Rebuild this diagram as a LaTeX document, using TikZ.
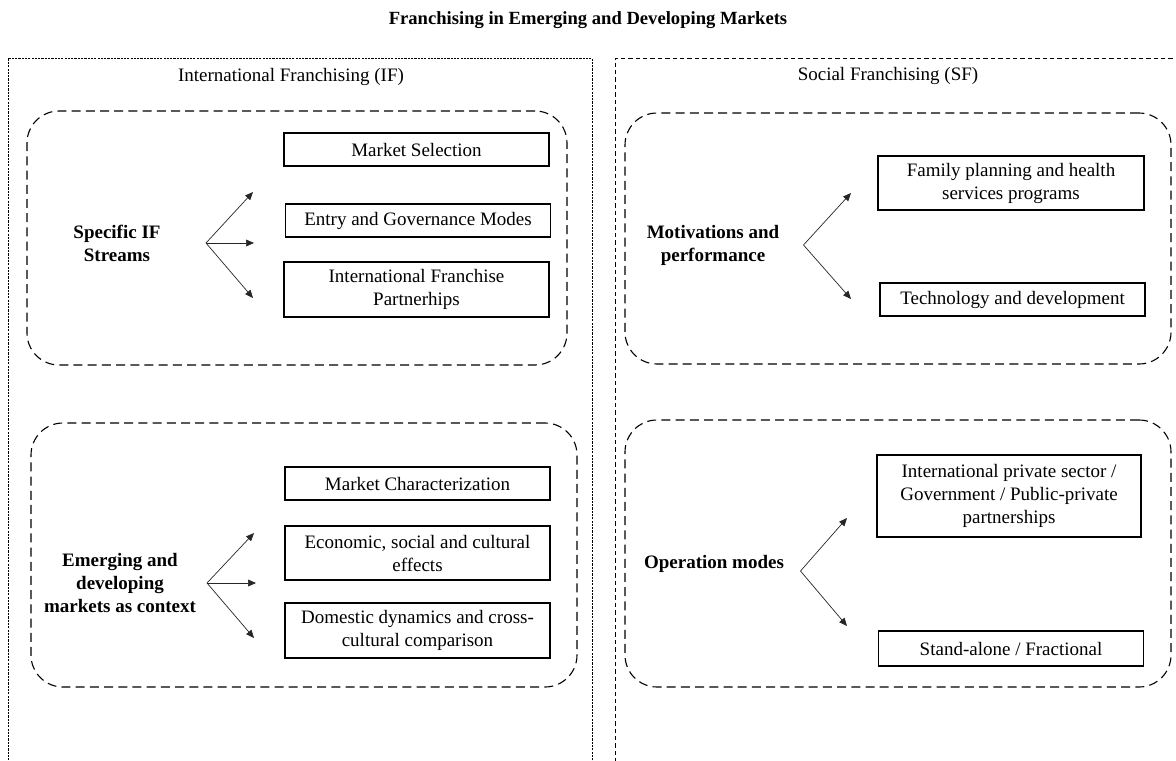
\documentclass[tikz,border=0pt]{standalone}
\usepackage{fontspec}
\setmainfont{Liberation Serif}
\usetikzlibrary{arrows.meta}

\begin{document}
\begin{tikzpicture}[x=0.5pt,y=-0.5pt,font=\fontsize{9.5}{11.5}\selectfont]
\useasboundingbox (0,0) rectangle (1176,760);
\clip (0,0) rectangle (1176,760);
\tikzstyle{side} = [draw, line width=0.5pt, inner sep=0pt, minimum height=371pt];
\tikzstyle{group} = [draw, line width=0.55pt, dash pattern=on 4.5pt off 2.6pt, rounded corners=16pt, inner sep=0pt];
\tikzstyle{item} = [draw, line width=0.65pt, align=center, inner sep=0pt, minimum width=132.5pt, minimum height=16.5pt];
\tikzstyle{topic} = [align=center, font=\fontsize{9.5}{11.5}\selectfont\bfseries];
\tikzstyle{arr} = [-{Triangle[length=4pt,width=3.4pt]}, line width=0.35pt, black!85];
\node[font=\fontsize{9.3}{11}\selectfont\bfseries] (title) at (588,20) {Franchising in Emerging and Developing Markets};
%
\node[side, dash pattern=on 1.1pt off 0.55pt, minimum width=292pt] (ifbox) at (300,429) {};
\node[side, dash pattern=on 2.2pt off 1.5pt, minimum width=292.5pt] (sfbox) at (907.5,429) {};
\node (ifhead) at (291,77) {International Franchising (IF)};
\node (sfhead) at (888,76) {Social Franchising (SF)};
%
\node[group, minimum width=270pt, minimum height=127pt] (g1) at (297,238) {};
\node[topic] (streams) at (117,243.5) {Specific IF\\Streams};
\node[item] (ms) at (416.5,149.5) {Market Selection};
\node[item] (eg) at (418,220.5) {Entry and Governance Modes};
\node[item, minimum height=27.5pt] (ifp) at (416.5,289.5) {International Franchise\\Partnerhips};
\coordinate (s1) at (206,243);
\coordinate (s1a) at (253,192);
\coordinate (s1b) at (254,243);
\coordinate (s1c) at (253,298);
\draw[arr] (s1) -- (s1a);
\draw[arr] (s1) -- (s1b);
\draw[arr] (s1) -- (s1c);
%
\node[group, minimum width=273pt, minimum height=132pt] (g2) at (304,555) {};
\node[topic] (context) at (120,583) {Emerging and\\developing\\markets as context};
\node[item] (mc) at (417.5,483.5) {Market Characterization};
\node[item, minimum height=27pt] (esc) at (417.5,553) {Economic, social and cultural\\effects};
\node[item, minimum height=27.5pt] (dd) at (417.5,630.5) {Domestic dynamics and cross-\\cultural comparison};
\coordinate (s2) at (207,583);
\coordinate (s2a) at (254,533);
\coordinate (s2b) at (256,583);
\coordinate (s2c) at (254,638);
\draw[arr] (s2) -- (s2a);
\draw[arr] (s2) -- (s2b);
\draw[arr] (s2) -- (s2c);
%
\node[group, minimum width=273pt, minimum height=125.5pt] (g3) at (898,238.5) {};
\node[topic] (motiv) at (713,245.5) {Motivations and\\performance};
\node[item, minimum width=133pt, minimum height=27pt] (fp) at (1011,183) {Family planning and health\\services programs};
\node[item] (td) at (1012.5,299.5) {Technology and development};
\coordinate (s3) at (803.5,245);
\coordinate (s3a) at (851,193);
\coordinate (s3b) at (851,299);
\draw[arr] (s3) -- (s3a);
\draw[arr] (s3) -- (s3b);
%
\node[group, minimum width=273pt, minimum height=133.5pt] (g4) at (898,553.5) {};
\node[topic] (opmodes) at (714,564) {Operation modes};
\node[item, minimum width=132pt, minimum height=41pt] (ip) at (1009,496) {International private sector /\\Government / Public-private\\partnerships};
\node[item, minimum height=17.5pt] (sa) at (1011,648.5) {Stand-alone / Fractional};
\coordinate (s4) at (800.5,571);
\coordinate (s4a) at (847,518);
\coordinate (s4b) at (847,626);
\draw[arr] (s4) -- (s4a);
\draw[arr] (s4) -- (s4b);
\end{tikzpicture}
\end{document}
